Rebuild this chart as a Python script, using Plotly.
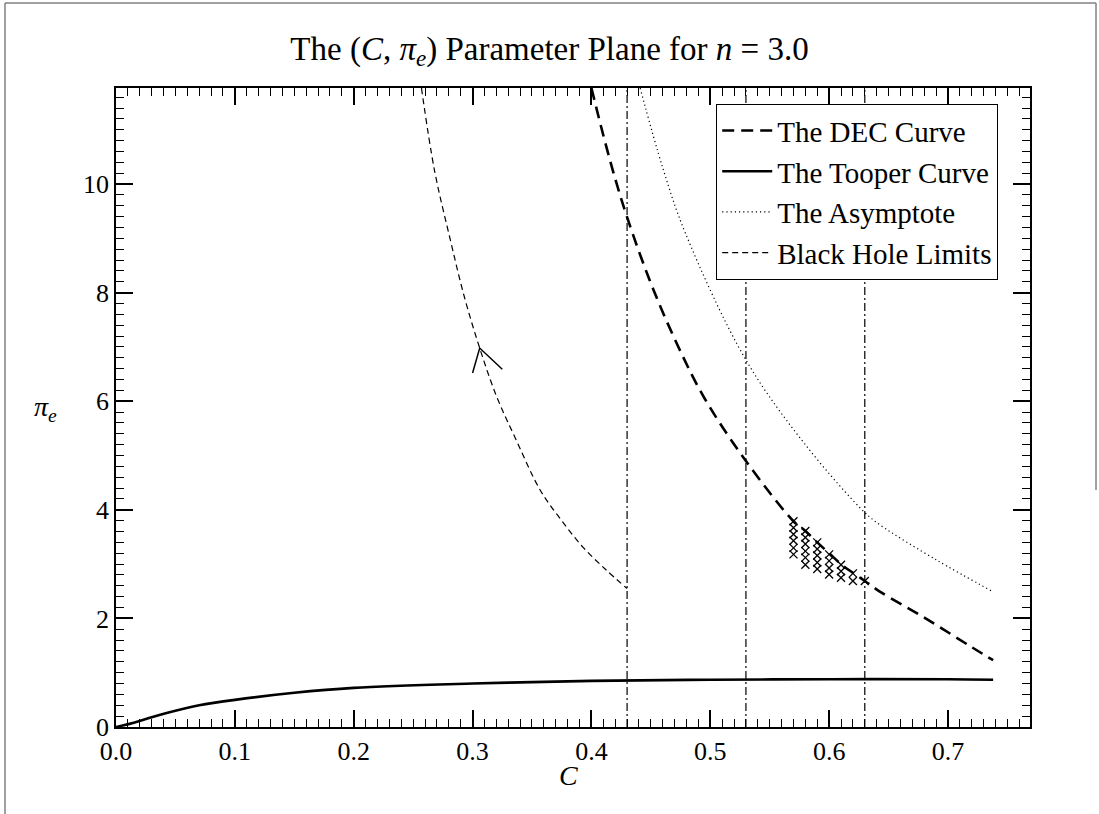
import plotly.graph_objects as go

# ---------------- data ----------------
dec_c = [0.400, 0.410, 0.420, 0.430, 0.449, 0.470, 0.495, 0.530, 0.570, 0.580, 0.590,
         0.600, 0.610, 0.620, 0.630, 0.643, 0.679, 0.720, 0.738]
dec_pi = [11.77, 10.90, 10.10, 9.39, 8.23, 7.15, 6.06, 4.90, 3.79, 3.61, 3.40,
          3.20, 3.00, 2.84, 2.69, 2.49, 2.03, 1.47, 1.23]

tooper_c = [0.0, 0.015, 0.03, 0.05, 0.07, 0.10, 0.15, 0.20, 0.30, 0.40, 0.50, 0.60, 0.70, 0.738]
tooper_pi = [0.0, 0.08, 0.18, 0.30, 0.40, 0.50, 0.63, 0.72, 0.80, 0.85, 0.87, 0.88, 0.88, 0.87]

asym_c = [0.441, 0.460, 0.479, 0.530, 0.580, 0.630, 0.643, 0.690, 0.738]
asym_pi = [11.77, 10.30, 9.10, 6.76, 5.20, 3.95, 3.72, 3.08, 2.49]

bh_c = [0.257, 0.268, 0.281, 0.293, 0.306, 0.320, 0.336, 0.357, 0.375, 0.393, 0.412, 0.430]
bh_pi = [11.77, 10.25, 9.00, 7.93, 6.98, 6.10, 5.32, 4.36, 3.80, 3.31, 2.90, 2.55]

limit_c = [0.43, 0.53, 0.63]

arrow_c = [0.300, 0.306, 0.325]
arrow_pi = [6.52, 6.98, 6.59]

marker_cols_c = [0.57, 0.58, 0.59, 0.60, 0.61, 0.62, 0.63]
marker_cols_pi = [
    [3.79, 3.67, 3.55, 3.43, 3.30, 3.18],
    [3.61, 3.49, 3.37, 3.24, 3.12, 2.99],
    [3.40, 3.28, 3.16, 3.03, 2.91],
    [3.18, 3.06, 2.93, 2.81],
    [2.99, 2.87, 2.75],
    [2.83, 2.69],
    [2.69],
]

x_range = [0.0, 0.769]
y_range = [0.0, 11.77]
x_ticks = [0.0, 0.1, 0.2, 0.3, 0.4, 0.5, 0.6, 0.7]
y_ticks = [0, 2, 4, 6, 8, 10]

FONT = "Liberation Serif, DejaVu Serif, serif"

fig = go.Figure()

fig.add_trace(go.Scatter(x=dec_c, y=dec_pi, mode="lines", name="The DEC Curve",
                         legendgroup="a", line=dict(color="black", width=2.6, dash="12px,7px", shape="spline")))
fig.add_trace(go.Scatter(x=tooper_c, y=tooper_pi, mode="lines", name="The Tooper Curve",
                         legendgroup="b", line=dict(color="black", width=2.6, shape="spline")))
fig.add_trace(go.Scatter(x=asym_c, y=asym_pi, mode="lines", name="The Asymptote",
                         legendgroup="c", line=dict(color="black", width=1.2, dash="1.2px,3px", shape="spline")))
fig.add_trace(go.Scatter(x=bh_c, y=bh_pi, mode="lines", name="Black Hole Limits",
                         legendgroup="d", line=dict(color="black", width=1.2, dash="6px,4px", shape="spline")))

# vertical dash-dot limit lines
vx, vy = [], []
for c in limit_c:
    vx += [c, c, None]
    vy += [y_range[0], y_range[1], None]
fig.add_trace(go.Scatter(x=vx, y=vy, mode="lines", showlegend=False,
                         line=dict(color="black", width=1.2, dash="8px,3px,2px,3px")))

# arrow head
fig.add_trace(go.Scatter(x=arrow_c, y=arrow_pi, mode="lines", showlegend=False,
                         line=dict(color="black", width=1.5)))

# cross markers
mx, my = [], []
for c, col in zip(marker_cols_c, marker_cols_pi):
    for p in col:
        mx.append(c)
        my.append(p)
fig.add_trace(go.Scatter(x=mx, y=my, mode="markers", showlegend=False,
                         marker=dict(symbol="x-thin-open", size=8, color="black",
                                     line=dict(color="black", width=1.3))))

axis_common = dict(showline=True, linecolor="black", linewidth=1.8, mirror="allticks",
                   ticks="inside", ticklen=17, tickwidth=1.5, tickcolor="black",
                   showgrid=False, zeroline=False,
                   tickfont=dict(family=FONT, size=26, color="black"))

fig.update_xaxes(range=x_range, tickvals=x_ticks, ticktext=[f"{t:.1f}" for t in x_ticks],
                 minor=dict(dtick=0.01, tick0=0, ticks="inside", ticklen=8, tickwidth=1.3,
                            tickcolor="black"),
                 **axis_common)
fig.update_yaxes(range=y_range, tickvals=y_ticks, ticktext=[str(t) for t in y_ticks],
                 minor=dict(dtick=0.2, tick0=0, ticks="inside", ticklen=8, tickwidth=1.3,
                            tickcolor="black"),
                 **axis_common)

L, R, T, B = 116, 69, 88, 87
W, H = 1099, 814
pw, ph = W - L - R, H - T - B


def px_x(px):
    return (px - L) / pw


def px_y(py):
    return (H - B - py) / ph


fig.update_layout(
    width=W, height=H,
    margin=dict(l=L, r=R, t=T, b=B),
    paper_bgcolor="white", plot_bgcolor="white",
    font=dict(family=FONT, size=26, color="black"),
    title=dict(text="The (<i>C</i>, <i>π<sub>e</sub></i>) Parameter Plane for <i>n</i> = 3.0",
               x=0.5, xref="container", xanchor="center",
               y=1 - 48 / H, yref="container", yanchor="middle",
               font=dict(family=FONT, size=33, color="black")),
    legend=dict(x=px_x(716), y=px_y(104), xanchor="left", yanchor="top",
                bgcolor="white", bordercolor="black", borderwidth=1.2,
                font=dict(family=FONT, size=29, color="black"),
                tracegroupgap=0, itemwidth=50),
    showlegend=True,
)

fig.add_annotation(text="<i>π<sub>e</sub></i>", xref="paper", yref="paper",
                   x=px_x(45), y=px_y(408), xanchor="center", yanchor="middle",
                   showarrow=False, font=dict(family=FONT, size=28, color="black"))
fig.add_annotation(text="<i>C</i>", xref="paper", yref="paper",
                   x=px_x(568), y=px_y(775), xanchor="center", yanchor="middle",
                   showarrow=False, font=dict(family=FONT, size=28, color="black"))

# outer gray frame
frame = dict(type="line", xref="paper", yref="paper", line=dict(color="#808080", width=1.5))
fig.add_shape(x0=px_x(5), x1=px_x(1096), y0=px_y(3), y1=px_y(3), **frame)
fig.add_shape(x0=px_x(5), x1=px_x(5), y0=px_y(3), y1=px_y(814), **frame)
fig.add_shape(x0=px_x(1096), x1=px_x(1096), y0=px_y(3), y1=px_y(490), **frame)

fig.write_html("out.html", config={"displayModeBar": False},
               post_script="document.body.style.margin='0px';")
